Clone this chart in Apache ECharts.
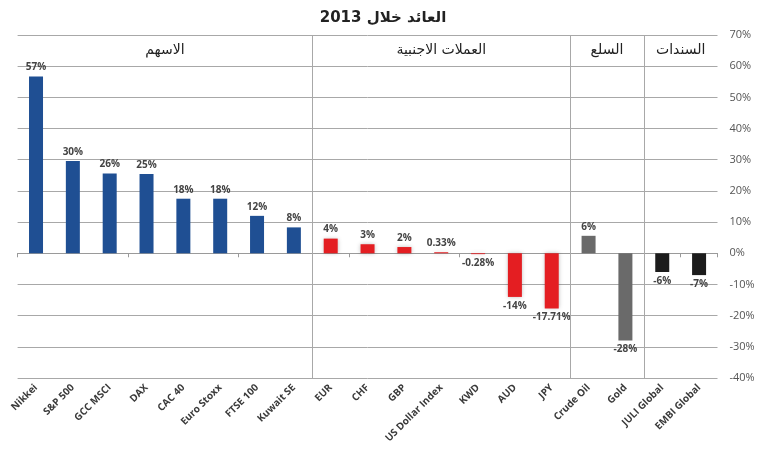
<!DOCTYPE html>
<html>
<head>
<meta charset="utf-8">
<script src="https://cdn.jsdelivr.net/npm/echarts@6/dist/echarts.min.js"></script>
<style>
  html, body { margin: 0; padding: 0; background: #fff; }
  #chart { width: 766px; height: 450px; }
</style>
</head>
<body>
<div id="chart"></div>
<script>
var categories = ['Nikkei', 'S&P 500', 'GCC MSCI', 'DAX', 'CAC 40', 'Euro Stoxx', 'FTSE 100', 'Kuwait SE',
  'EUR', 'CHF', 'GBP', 'US Dollar Index', 'KWD', 'AUD', 'JPY',
  'Crude Oil', 'Gold', 'JULI Global', 'EMBI Global'];
var returns = [56.7, 29.6, 25.6, 25.4, 17.5, 17.5, 12, 8.3,
  4.7, 2.9, 2, 0.33, -0.28, -14, -17.71,
  5.6, -28, -6, -7];
var valueLabels = ['57%', '30%', '26%', '25%', '18%', '18%', '12%', '8%',
  '4%', '3%', '2%', '0.33%', '-0.28%', '-14%', '-17.71%',
  '6%', '-28%', '-6%', '-7%'];
var groupNames = ['الاسهم', 'العملات الاجنبية', 'السلع', 'السندات'];
var groupSizes = [8, 7, 2, 2];
var yTicks = { min: -40, max: 70, interval: 10 };

// الوان المجموعات
var groupColors = ['#1f4f93', '#e41e22', '#6a6a6a', '#1c1c1c'];

var chart = echarts.init(document.getElementById('chart'));

// بناء البيانات مع لون كل مجموعة
var barData = [];
var bounds = [];
var start = 0;
groupSizes.forEach(function(n, g) {
  for (var i = start; i < start + n; i++) {
    barData.push({
      value: returns[i],
      itemStyle: g === 1
        ? { color: groupColors[g], shadowBlur: 4, shadowColor: 'rgba(0,0,0,0.25)' }
        : { color: groupColors[g] },
      label: { position: returns[i] >= 0 ? 'top' : 'bottom' }
    });
  }
  bounds.push([start, start + n]);
  start += n;
});

var markLines = bounds.slice(1).map(function(b) { return { xAxis: b[0] }; });
var markAreas = bounds.map(function(b, g) {
  return [{ xAxis: b[0], yAxis: 60, name: groupNames[g] }, { xAxis: b[1], yAxis: 70 }];
});

chart.setOption({
  animation: false,
  title: {
    text: 'العائد خلال 2013',
    left: 'center',
    top: 6,
    textStyle: { fontSize: 15, fontWeight: 'bold', color: '#222', fontFamily: 'DejaVu Sans' }
  },
  grid: { left: 17.6, right: 48.5, top: 35, bottom: 72 },
  xAxis: [{
    type: 'category',
    data: categories,
    position: 'bottom',
    axisLine: { show: false, onZero: false },
    axisTick: { show: false },
    axisLabel: {
      rotate: 45, interval: 0, margin: 8,
      fontSize: 10, fontWeight: 'bold', color: '#3a3a3a', fontFamily: 'Open Sans'
    }
  }, {
    type: 'category',
    data: categories,
    position: 'bottom',
    axisLine: { show: true, onZero: true, lineStyle: { color: '#9a9a9a', width: 1 } },
    axisTick: { show: true, length: 4, lineStyle: { color: '#9a9a9a' } },
    axisLabel: { show: false }
  }, {
    type: 'value',
    min: 0,
    max: categories.length,
    show: false
  }],
  yAxis: {
    type: 'value',
    position: 'right',
    min: yTicks.min,
    max: yTicks.max,
    interval: yTicks.interval,
    axisLine: { show: false },
    axisTick: { show: false },
    axisLabel: {
      formatter: '{value}%', margin: 12,
      fontSize: 11, color: '#555', fontFamily: 'Open Sans'
    },
    splitLine: { lineStyle: { color: '#a8a8a8', width: 1 } }
  },
  series: [{
    type: 'bar',
    xAxisIndex: 0,
    data: barData,
    barWidth: 14,
    label: {
      show: true,
      distance: 4,
      fontSize: 10,
      fontWeight: 'bold',
      color: '#444',
      fontFamily: 'Open Sans',
      formatter: function(p) { return valueLabels[p.dataIndex]; }
    }
  }, {
    type: 'line',
    xAxisIndex: 2,
    data: [[0, 0], [categories.length, 0]],
    symbol: 'none',
    lineStyle: { opacity: 0 },
    silent: true,
    markLine: {
      silent: true,
      symbol: 'none',
      label: { show: false },
      lineStyle: { color: '#a8a8a8', type: 'solid', width: 1 },
      data: markLines
    },
    markArea: {
      silent: true,
      itemStyle: { color: 'rgba(0,0,0,0)' },
      label: {
        show: true, position: 'inside',
        fontSize: 14, color: '#222', fontFamily: 'DejaVu Sans'
      },
      data: markAreas
    }
  }]
});
</script>
</body>
</html>
